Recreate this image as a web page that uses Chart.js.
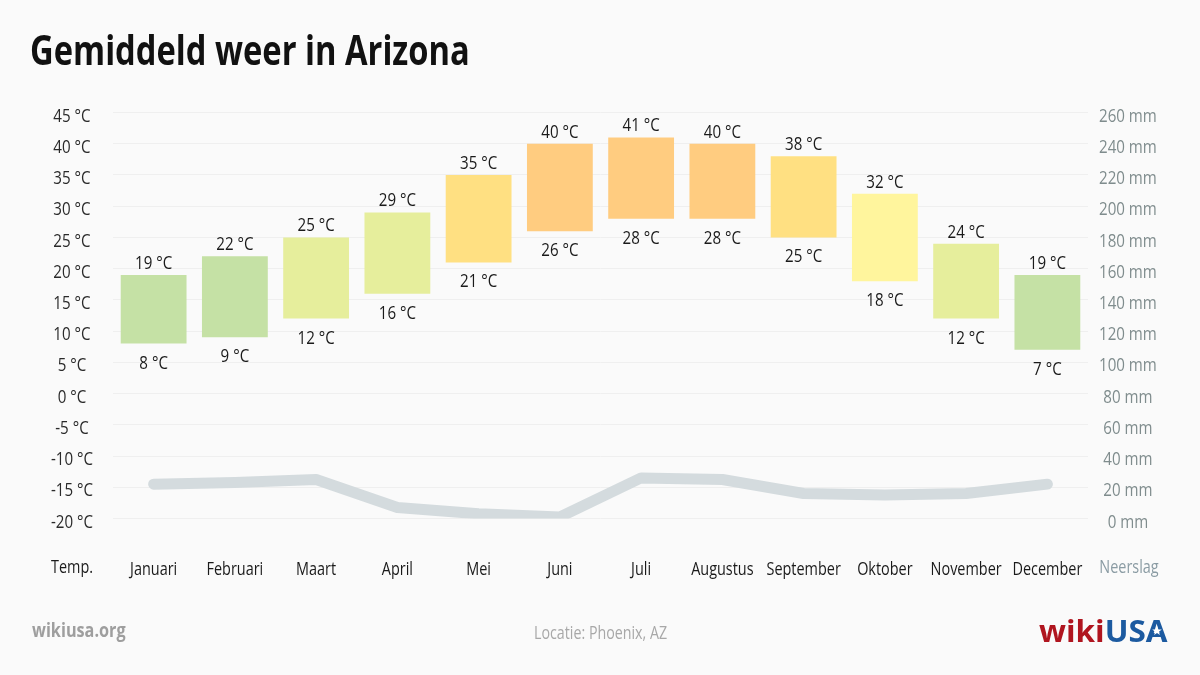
<!DOCTYPE html>
<html><head><meta charset="utf-8">
<script src="https://cdn.jsdelivr.net/npm/chart.js@4"></script>
<style>
html,body{margin:0;padding:0;background:#fafafa;}
#wrap{position:relative;width:1200px;height:675px;overflow:hidden;background:#fafafa;font-family:"Open Sans",sans-serif;}
canvas{position:absolute;left:0;top:0;}
.t{position:absolute;white-space:nowrap;transform-origin:0 0;line-height:1;}
#star{position:absolute;left:1152px;top:626px;width:10px;height:10px;background:#fff;z-index:5;
clip-path:polygon(50% 0%,61% 35%,98% 35%,68% 57%,79% 91%,50% 70%,21% 91%,32% 57%,2% 35%,39% 35%);}
</style></head>
<body><div id="wrap">
<canvas id="c" width="1200" height="675"></canvas>
<div id="title" class="t" style="left:30px;top:28px;font-size:42px;font-weight:700;color:#111;">Gemiddeld weer in Arizona</div>
<div id="site" class="t" style="left:32px;top:621px;font-size:19px;font-weight:700;color:#9e9e9e;">wikiusa.org</div>
<div id="loc" class="t" style="left:534px;top:623px;font-size:18px;color:#a8a8a8;">Locatie: Phoenix, AZ</div>
<div id="logo" class="t" style="left:1039px;top:616px;font-size:30px;font-weight:700;"><span style="color:#b0151f">wiki</span><span style="color:#1c5aa0">USA</span></div>
<div id="star"></div>
</div>
<script>
const months = ['Januari','Februari','Maart','April','Mei','Juni','Juli','Augustus','September','Oktober','November','December'];
const tempHigh = [19,22,25,29,35,40,41,40,38,32,24,19];
const tempLow = [8,9,12,16,21,26,28,28,25,18,12,7];
const precip = [22,23,25,7,3,1,26,25,16,15,16,22];
const barColors = ['#c5e1a5','#c5e1a5','#e6ee9c','#e6ee9c','#ffe082','#ffcc80','#ffcc80','#ffcc80','#ffe082','#fff59d','#e6ee9c','#c5e1a5'];

function fitWidth(id, w){ const el=document.getElementById(id); el.style.transform='scaleX('+(w/el.offsetWidth)+')'; }
fitWidth('title',440); fitWidth('site',94); fitWidth('loc',133); fitWidth('logo',129);

function sxFor(t){ return /\d/.test(String(t)) ? 0.84 : 0.76; }
const condense = {
  id:'condense',
  beforeInit(chart){
    const ctx = chart.ctx;
    const ft = ctx.fillText.bind(ctx), mt = ctx.measureText.bind(ctx);
    ctx.fillText = function(t,x,y){ const s=sxFor(t); ctx.save(); ctx.translate(x,y); ctx.scale(s,1); ft(t,0,0); ctx.restore(); };
    ctx.measureText = function(t){ const s=sxFor(t); const m = mt(t); return {width:m.width*s, actualBoundingBoxAscent:m.actualBoundingBoxAscent, actualBoundingBoxDescent:m.actualBoundingBoxDescent, actualBoundingBoxLeft:m.actualBoundingBoxLeft*s, actualBoundingBoxRight:m.actualBoundingBoxRight*s, fontBoundingBoxAscent:m.fontBoundingBoxAscent, fontBoundingBoxDescent:m.fontBoundingBoxDescent}; };
  }
};
const labels = {
  id:'labels',
  afterDatasetsDraw(chart){
    const ctx = chart.ctx;
    const meta = chart.getDatasetMeta(0);
    ctx.save();
    ctx.font = '18px "Open Sans"';
    ctx.fillStyle = '#1a1a1a';
    ctx.textAlign = 'center';
    ctx.textBaseline = 'alphabetic';
    meta.data.forEach((el,i)=>{
      const top = Math.min(el.y, el.base), bottom = Math.max(el.y, el.base);
      ctx.fillText(tempHigh[i]+' °C', el.x, top-6);
      ctx.fillText(tempLow[i]+' °C', el.x, bottom+25);
    });
    ctx.font = '19px "Open Sans"';
    ctx.textBaseline = 'middle';
    ctx.fillStyle = '#1a1a1a';
    ctx.fillText('Temp.', 72, 568);
    ctx.fillStyle = '#8a9ba3';
    ctx.fillText('Neerslag', 1129, 568);
    ctx.restore();
  }
};

new Chart(document.getElementById('c'), {
  data:{
    labels: months,
    datasets:[
      {type:'bar', data: tempLow.map((l,i)=>[l,tempHigh[i]]), backgroundColor: barColors, barPercentage:0.81, categoryPercentage:1, yAxisID:'y', order:1},
      {type:'line', data: precip, borderColor:'#d4dbde', borderWidth:11, pointRadius:0, borderCapStyle:'round', borderJoinStyle:'round', tension:0, yAxisID:'y2', order:2}
    ]
  },
  options:{
    responsive:false, animation:false, devicePixelRatio:1,
    layout:{padding:{top:112.5,left:0,right:0,bottom:0}},
    plugins:{legend:{display:false}, tooltip:{enabled:false}},
    scales:{
      x:{grid:{display:false}, border:{display:false},
         ticks:{font:{family:'"Open Sans"',size:19}, color:'#1a1a1a', padding:32, maxRotation:0, autoSkip:false},
         afterFit(s){ s.height = 156.5; }},
      y:{position:'left', min:-20, max:45,
         ticks:{stepSize:5, callback:v=>v+' °C', font:{family:'"Open Sans"',size:18}, color:'#2a2a2a', crossAlign:'center', padding:20, labelOffset:4},
         grid:{color:'#efefef', drawTicks:false}, border:{display:false},
         afterFit(s){ s.width = 113; }},
      y2:{position:'right', min:0, max:260,
         ticks:{stepSize:20, callback:v=>v+' mm', font:{family:'"Open Sans"',size:18}, color:'#7f8c8d', crossAlign:'center', padding:11, labelOffset:4},
         grid:{display:false, drawTicks:false}, border:{display:false},
         afterFit(s){ s.width = 112; }}
    }
  },
  plugins:[condense, labels]
});
</script>
</body></html>
